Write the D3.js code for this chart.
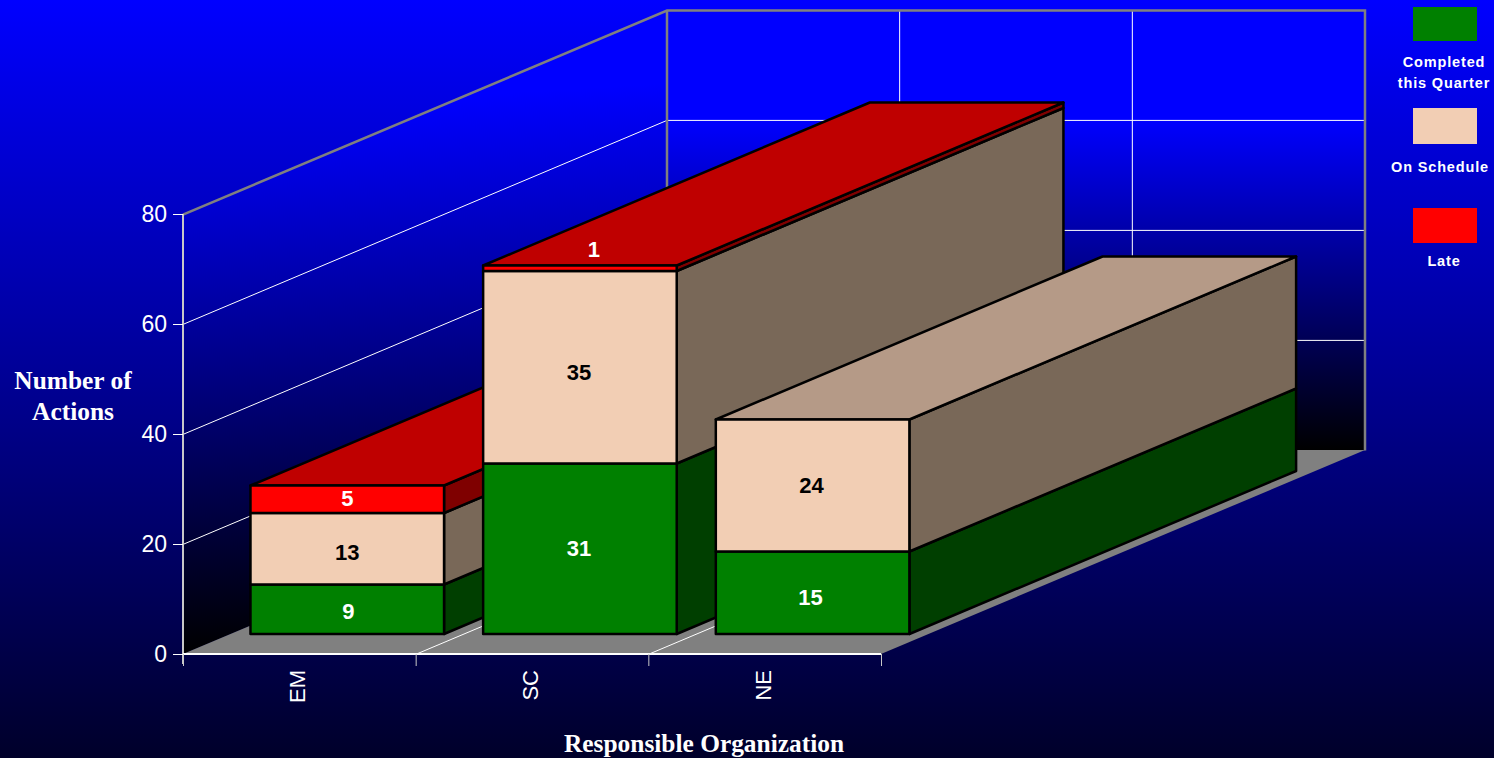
<!DOCTYPE html>
<html>
<head>
<meta charset="utf-8">
<script src="https://cdn.jsdelivr.net/npm/d3@7/dist/d3.min.js"></script>
<style>
  html, body { margin: 0; padding: 0; background: #000033; overflow: hidden; }
  svg { display: block; font-family: "Liberation Sans", Arial, sans-serif; }
</style>
</head>
<body>
<svg id="chart" width="1494" height="758"></svg>
<script>
// Actions per responsible organization, stacked by status
const categories = ["EM", "SC", "NE"];
const statuses = ["Completed this Quarter", "On Schedule", "Late"];
const completed = [9, 31, 15];
const onSchedule = [13, 35, 24];
const late = [5, 1, 0];
const yTicks = [0, 20, 40, 60, 80];

const colors = { front: ["#008000", "#f2ceb4", "#ff0000"],
                 top:   ["#006000", "#b59a87", "#bf0000"],
                 side:  ["#003f00", "#796858", "#7f0000"] };
const labelColors = ["#ffffff", "#000000", "#ffffff"];
const legendRows = [["Completed", "this Quarter"], ["On Schedule"], ["Late"]];

// Hand placement of the value labels, [dx, dy] per category and status
const labelNudge = [
  [[1, 2], [0, 3], [0, -1]],
  [[-1, -1], [-1, 5], [0, -1]],
  [[-2, 4], [-1, 0], [0, 0]]
];

const svg = d3.select("#chart");
const W = 1494, H = 758;

// Oblique projection: a depth of 0..1 slides a point up and to the right
const left = 183, right = 881, floorY = 654, topY = 214;
const depthX = d3.scaleLinear().domain([0, 1]).range([0, 484]);
const depthY = d3.scaleLinear().domain([0, 1]).range([0, -204]);
const xEdge = d3.scaleLinear().domain([0, categories.length]).range([left, right]);
const xBand = d3.scaleBand().domain(categories).range([left + 0.5, right + 0.5])
  .paddingInner(0.168).paddingOuter(0.084);
const y = d3.scaleLinear().domain([0, 80]).range([floorY, topY]);
const project = (px, py, d) => [px + depthX(d), py + depthY(d)];
const barDepth = [0.098, 0.897];

// Gradients
const defs = svg.append("defs");
function gradient(id, attrs, stops) {
  const g = defs.append("linearGradient").attr("id", id).attr("gradientUnits", "userSpaceOnUse");
  Object.entries(attrs).forEach(([k, v]) => g.attr(k, v));
  stops.forEach(([o, c]) => g.append("stop").attr("offset", o).attr("stop-color", c));
}
gradient("page", { x1: 0, y1: 0, x2: 0, y2: H }, [[0, "#0000ff"], [1, "#00002a"]]);
gradient("backWall", { x1: 0, y1: y(80) + depthY(1), x2: 0, y2: y(0) + depthY(1) },
  [[0, "#0000ff"], [0.25, "#0000ff"], [1, "#000000"]]);
gradient("sideWall", { x1: 151, y1: 114, x2: 183, y2: 654 },
  [[0, "#0000ff"], [1, "#000000"]]);

svg.append("rect").attr("width", W).attr("height", H).attr("fill", "url(#page)");

const poly = pts => "M" + pts.map(p => p.join(",")).join("L") + "Z";

// Walls and floor
const plot = svg.append("g");
plot.append("path")
  .attr("d", poly([project(left, y(0), 0), project(left, y(80), 0), project(left, y(80), 1), project(left, y(0), 1)]))
  .attr("fill", "url(#sideWall)");
plot.append("path")
  .attr("d", poly([project(left, y(0), 1), project(left, y(80), 1), project(right, y(80), 1), project(right, y(0), 1)]))
  .attr("fill", "url(#backWall)");
plot.append("path")
  .attr("d", poly([project(left, y(0), 0), project(right, y(0), 0), project(right, y(0), 1), project(left, y(0), 1)]))
  .attr("fill", "#808080");

// Gridlines on the walls and the floor
const grid = plot.append("g").attr("fill", "none").attr("stroke", "#ffffff").attr("stroke-width", 1)
  .attr("transform", "translate(0,0.4)");
yTicks.filter(v => v > 0 && v < 80).forEach(v => {
  grid.append("path").attr("d", d3.line()([project(left, y(v), 0), project(left, y(v), 1), project(right, y(v), 1)]));
});
d3.range(1, categories.length).forEach(i => {
  const e = xEdge(i);
  grid.append("path").attr("d", d3.line()([project(e, y(0), 0), project(e, y(0), 1), project(e, y(80), 1)]));
});

// Wall outline
const outline = plot.append("g").attr("fill", "none").attr("stroke", "#808080").attr("stroke-width", 2.5)
  .attr("transform", "translate(0,0.6)");
outline.append("path")
  .attr("d", d3.line()([project(left, y(80), 0), project(left, y(80), 1), project(right, y(80), 1), project(right, y(0), 1)]));
outline.append("path")
  .attr("d", d3.line()([project(left, y(80), 1), project(left, y(0), 1)]));

// Stacked bars, drawn left to right and bottom to top so nearer faces overlap
const rows = categories.map((c, i) => ({ category: c, 0: completed[i], 1: onSchedule[i], 2: late[i] }));
const series = d3.stack().keys([0, 1, 2])(rows);
const bars = svg.append("g").attr("stroke", "#000000").attr("stroke-width", 2.5).attr("stroke-linejoin", "round");
const labels = [];

rows.forEach((row, i) => {
  const x0 = xBand(row.category), x1 = x0 + xBand.bandwidth();
  const [dA, dB] = barDepth;
  const stackTop = d3.max(series, s => s[i][1]);
  series.forEach((s, k) => {
    const [v0, v1] = s[i];
    if (v1 === v0) return;
    const pa = (px, v, d) => project(px, y(v), d);
    bars.append("path").attr("fill", colors.side[k])
      .attr("d", poly([pa(x1, v0, dA), pa(x1, v1, dA), pa(x1, v1, dB), pa(x1, v0, dB)]));
    if (v1 === stackTop) {
      bars.append("path").attr("fill", colors.top[k])
        .attr("d", poly([pa(x0, v1, dA), pa(x1, v1, dA), pa(x1, v1, dB), pa(x0, v1, dB)]));
    }
    bars.append("path").attr("fill", colors.front[k])
      .attr("d", poly([pa(x0, v0, dA), pa(x1, v0, dA), pa(x1, v1, dA), pa(x0, v1, dA)]));

    // A segment too thin to hold its number gets it on the top face instead
    const thin = y(v0) - y(v1) < 20;
    const [lx, ly] = project((x0 + x1) / 2, y((v0 + v1) / 2), dA);
    const [nx, ny] = labelNudge[i][k];
    labels.push({ value: v1 - v0, k, x: lx + nx + (thin ? 14 : 0), y: ly + ny + (thin ? -18 : 0) });
  });
});

svg.append("g").selectAll("text").data(labels).join("text")
  .attr("x", d => d.x).attr("y", d => d.y)
  .attr("dy", "0.36em")
  .attr("text-anchor", "middle")
  .attr("font-weight", "bold").attr("font-size", 22)
  .attr("fill", d => labelColors[d.k])
  .text(d => d.value);

// Axes
const yAxis = svg.append("g").attr("transform", `translate(${left},0)`)
  .call(d3.axisLeft(y).tickValues(yTicks).tickSize(10).tickPadding(6).tickSizeOuter(0));
yAxis.select(".domain").attr("d", `M0,${y(80)}V${floorY + 10}`).attr("stroke", "#c8c8c8").attr("stroke-width", 2);
yAxis.selectAll(".tick line").attr("stroke", "#ffffff");
yAxis.selectAll(".tick text").attr("fill", "#ffffff").attr("font-size", 23)
  .attr("font-family", '"Liberation Sans", Arial, sans-serif');

const xAxis = svg.append("g").attr("transform", `translate(0,${floorY})`)
  .call(d3.axisBottom(xEdge).tickValues(d3.range(0, categories.length + 1)).tickSize(12).tickSizeOuter(0).tickFormat(""));
xAxis.select(".domain").attr("d", `M${left},0H${right}`).attr("stroke", "#ffffff").attr("stroke-width", 2);
xAxis.selectAll(".tick line").attr("stroke", "#c8c8c8");

svg.append("g").selectAll("text").data(categories).join("text")
  .attr("transform", d => `translate(${xBand(d) + xBand.bandwidth() / 2 - 2.5},670) rotate(-90)`)
  .attr("dy", "0.36em")
  .attr("text-anchor", "end")
  .attr("fill", "#ffffff").attr("font-size", 22)
  .text(d => d);

// Axis titles
const serif = '"Liberation Serif", "Times New Roman", serif';
const titles = [["Number of", 73, 389], ["Actions", 73, 420], ["Responsible Organization", 704, 752]];
svg.append("g").selectAll("text").data(titles).join("text")
  .attr("x", d => d[1]).attr("y", d => d[2]).attr("text-anchor", "middle")
  .attr("font-family", serif).attr("font-weight", "bold").attr("font-size", 25.4).attr("fill", "#ffffff")
  .text(d => d[0]);

// Legend
const legendTop = d3.scaleOrdinal().domain(statuses).range([7, 108, 208]);
const legendHeight = d3.scaleOrdinal().domain(statuses).range([34, 36, 35]);
const legendText = d3.scaleOrdinal().domain(statuses).range([67, 172, 266]);
const legend = svg.append("g");
statuses.forEach((s, k) => {
  legend.append("rect").attr("x", 1413).attr("y", legendTop(s)).attr("width", 64).attr("height", legendHeight(s))
    .attr("fill", colors.front[k]);
  legendRows[k].forEach((line, j) => {
    legend.append("text").attr("x", k === 1 ? 1440 : 1444).attr("y", legendText(s) + j * 21)
      .attr("text-anchor", "middle").attr("font-weight", "bold").attr("font-size", 14.5)
      .attr("letter-spacing", 0.85).attr("fill", "#ffffff").text(line);
  });
});
</script>
</body>
</html>
